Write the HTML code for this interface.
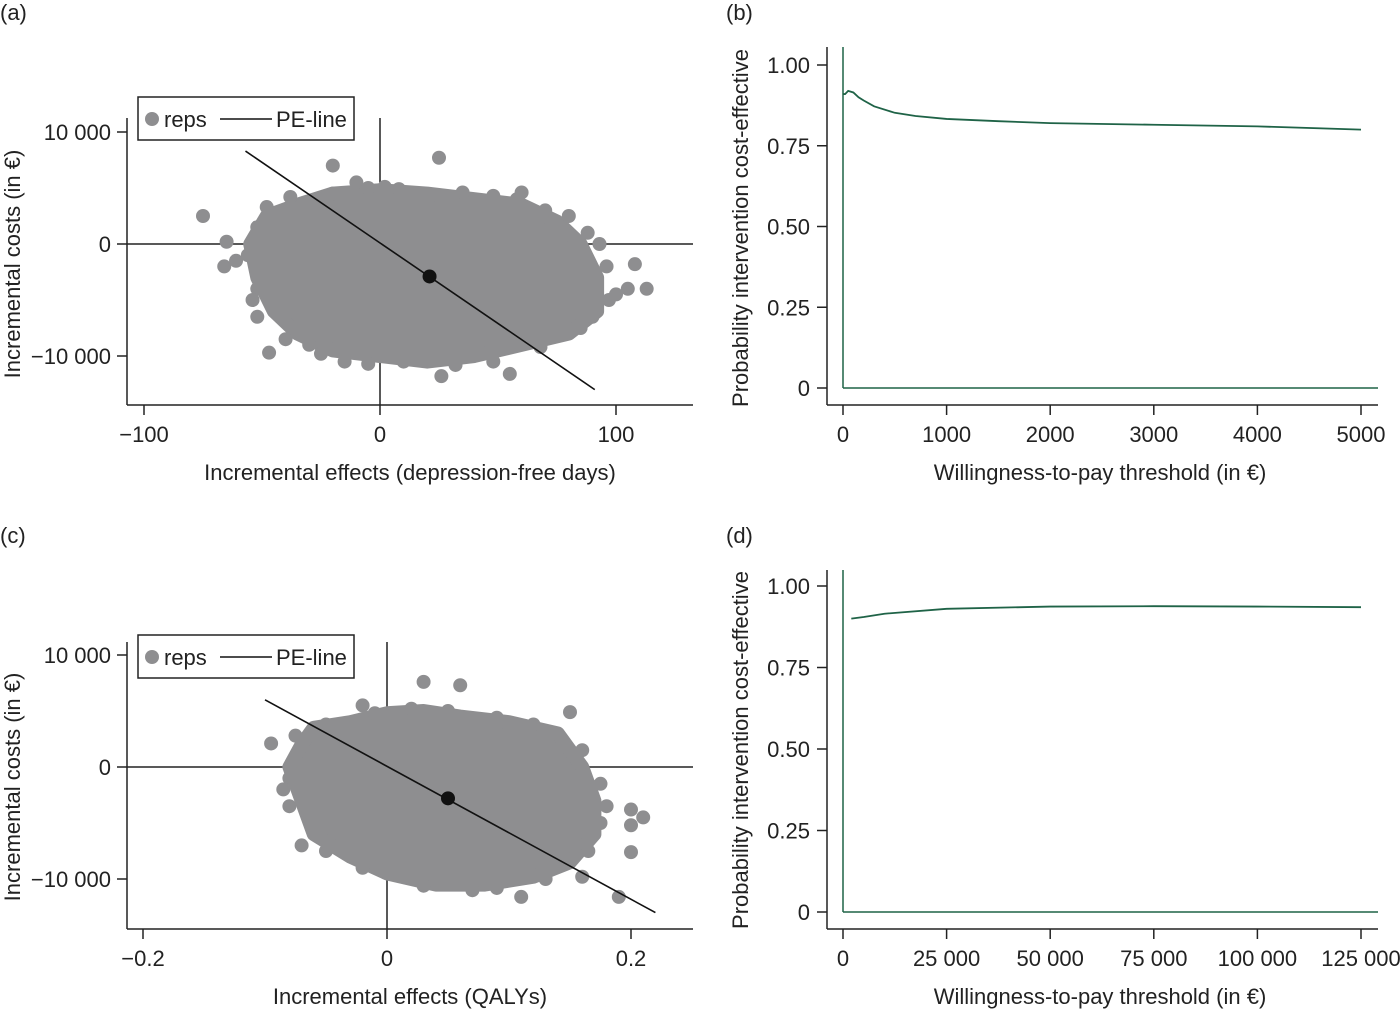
<!DOCTYPE html>
<html><head><meta charset="utf-8"><style>
body{margin:0;background:#fff;}
svg text{font-family:"Liberation Sans",sans-serif;fill:#222;}
</style></head><body>
<svg id="chart" width="1400" height="1010" xmlns="http://www.w3.org/2000/svg"></svg>
<script>
// Panel (a) data
const aTicksX=[-100,0,100];
const aTickLabelsX=["\u2212100","0","100"];
const aTicksY=[10000,0,-10000];
const aTickLabelsY=["10 000","0","\u221210 000"];
const aCloud=[[-55,0],[-48,2500],[-35,3500],[-20,4500],[0,4800],[20,4500],[40,4000],[60,3500],[75,2000],[85,0],[92,-3000],[92,-6000],[80,-8000],[60,-9000],[40,-10000],[20,-10500],[0,-10000],[-20,-9500],[-35,-8000],[-45,-6000],[-52,-3000]];
const aOutliers=[[-75,2500],[-65,200],[-66,-2000],[-61,-1500],[-52,-4000],[-52,-6500],[-47,-9700],[-20,7000],[-10,5500],[-20,4500],[25,7700],[60,4600],[80,2500],[93,0],[108,-1800],[105,-4000],[113,-4000],[100,-4500],[-30,-9000],[10,-10500],[26,-11800],[55,-11600],[-15,-10500],[90,-6500],[85,-7500],
[-48,3300],[-38,4200],[2,5100],[8,4900],[-5,5000],[35,4600],[48,4300],[58,4000],[70,3000],[88,1000],[96,-2000],[97,-5000],[-54,-5000],[-40,-8500],[-25,-9800],[-5,-10700],[32,-10800],[48,-10500],[68,-9200],[-56,-1000],[-52,1500]];
const aPE=[[-57,8300],[91,-13000]];
const aMean=[21,-2900];
// Panel (c) data
const cTicksX=[-0.2,0,0.2];
const cTickLabelsX=["\u22120.2","0","0.2"];
const cCloud=[[-0.07,2000],[-0.06,3500],[-0.03,4000],[0,4800],[0.03,5000],[0.06,4500],[0.1,4000],[0.14,3000],[0.16,0],[0.17,-3000],[0.17,-6000],[0.15,-8500],[0.12,-9800],[0.08,-10500],[0.04,-10500],[0,-9500],[-0.03,-8000],[-0.06,-6000],[-0.07,-3000],[-0.08,0]];
const cOutliers=[[-0.095,2100],[-0.08,-1000],[-0.08,-3500],[-0.07,-7000],[-0.02,5500],[0.03,7600],[0.06,7300],[0.15,4900],[0.18,-3500],[0.2,-3800],[0.2,-5200],[0.21,-4500],[0.2,-7600],[0.19,-11600],[0.16,-9800],[0.11,-11600],[0.07,-11000],
[-0.075,2800],[-0.05,3800],[-0.01,4800],[0.02,5200],[0.05,5000],[0.09,4400],[0.12,3800],[0.16,1500],[0.175,-1500],[0.175,-5000],[0.165,-7500],[0.13,-10000],[0.09,-10800],[0.03,-10600],[-0.02,-9000],[-0.05,-7500],[-0.085,-2000]];
const cPE=[[-0.1,6000],[0.22,-13000]];
const cMean=[0.05,-2800];
// Panel (b) data
const bX=[20,50,100,150,200,300,500,700,1000,1500,2000,3000,4000,5000];
const bY=[0.91,0.92,0.915,0.90,0.89,0.872,0.852,0.842,0.833,0.826,0.82,0.815,0.81,0.80];
const bTicks=[0,1000,2000,3000,4000,5000];
const bTickLabels=["0","1000","2000","3000","4000","5000"];
// Panel (d) data
const dX=[2000,5000,10000,25000,50000,75000,100000,125000];
const dY=[0.90,0.905,0.915,0.93,0.937,0.938,0.937,0.935];
const dTicks=[0,25000,50000,75000,100000,125000];
const dTickLabels=["0","25 000","50 000","75 000","100 000","125 000"];
const pTicks=[1,0.75,0.5,0.25,0];
const pTickLabels=["1.00","0.75","0.50","0.25","0"];

const svg=document.getElementById('chart');
const NS="http://www.w3.org/2000/svg";
function mk(tag,attrs,name,parent){const e=document.createElementNS(NS,tag);for(const k in attrs)e.setAttribute(k,attrs[k]);


(parent||svg).appendChild(e);return e;}
function txt(x,y,s,name,anchor,size,rot){const t=mk('text',{x:x,y:y,'text-anchor':anchor||'middle','font-size':size||22},name);if(rot)t.setAttribute('transform',`rotate(-90 ${x} ${y})`);t.textContent=s;return t;}
const GREY="#8e8e90", GREEN="#1f6347";

function scatterPanel(o){
  const sx=v=>o.x0+(v-o.xd0)*o.kx, sy=v=>o.y0-(v)*o.ky;
  const g=mk('g',{},o.name);
  mk('line',{x1:o.L,y1:o.T,x2:o.L,y2:o.B,stroke:'#222','stroke-width':1.5},'y-axis',g);
  mk('line',{x1:o.L,y1:o.B,x2:o.R,y2:o.B,stroke:'#222','stroke-width':1.5},'x-axis',g);
  o.tx.forEach((v,i)=>{mk('line',{x1:sx(v),y1:o.B,x2:sx(v),y2:o.B+10,stroke:'#222','stroke-width':1.5},'x-tick',g);txt(sx(v),o.B+37,o.txl[i],'x-tick-label');});
  aTicksY.forEach((v,i)=>{mk('line',{x1:o.L-10,y1:sy(v),x2:o.L,y2:sy(v),stroke:'#222','stroke-width':1.5},'y-tick',g);txt(o.L-16,sy(v)+8,aTickLabelsY[i],'y-tick-label','end');});
  mk('line',{x1:o.L,y1:sy(0),x2:o.R,y2:sy(0),stroke:'#222','stroke-width':1.5},'zero-cost-line',g);
  mk('line',{x1:sx(0),y1:o.T,x2:sx(0),y2:o.B,stroke:'#222','stroke-width':1.5},'zero-effect-line',g);
  mk('polygon',{points:o.cloud.map(p=>sx(p[0])+','+sy(p[1])).join(' '),fill:GREY,stroke:GREY,'stroke-width':14,'stroke-linejoin':'round'},'replicates-cloud',g);
  o.out.forEach(p=>mk('circle',{cx:sx(p[0]),cy:sy(p[1]),r:7,fill:GREY},'replicate-point',g));
  mk('line',{x1:sx(o.pe[0][0]),y1:sy(o.pe[0][1]),x2:sx(o.pe[1][0]),y2:sy(o.pe[1][1]),stroke:'#111','stroke-width':1.6},'pe-line',g);
  mk('circle',{cx:sx(o.mean[0]),cy:sy(o.mean[1]),r:7,fill:'#111'},'point-estimate',g);
  const lg=mk('g',{},'legend',g);
  mk('rect',{x:138,y:o.legY,width:216,height:43,fill:'#fff',stroke:'#222','stroke-width':1.5},'legend-box',lg);
  mk('circle',{cx:152,cy:o.legY+22,r:7,fill:GREY},'legend-reps-marker',lg);
  txt(164,o.legY+30,'reps','legend-reps-label','start');
  mk('line',{x1:220,y1:o.legY+22,x2:272,y2:o.legY+22,stroke:'#111','stroke-width':1.5},'legend-pe-line',lg);
  txt(276,o.legY+30,'PE-line','legend-pe-label','start');
  txt(410,o.B+75,o.xtitle,'x-axis-title');
  txt(20,o.sy0,'Incremental costs (in \u20ac)','y-axis-title','middle',22,true);
}
scatterPanel({name:'panel-a',L:127,R:693,T:118,B:405,x0:380,xd0:0,kx:2.36,y0:244,ky:0.0112,tx:aTicksX,txl:aTickLabelsX,cloud:aCloud,out:aOutliers,pe:aPE,mean:aMean,legY:97,xtitle:'Incremental effects (depression-free days)',sy0:264});
scatterPanel({name:'panel-c',L:127,R:693,T:642,B:929,x0:387,xd0:0,kx:1220,y0:767,ky:0.0112,tx:cTicksX,txl:cTickLabelsX,cloud:cCloud,out:cOutliers,pe:cPE,mean:cMean,legY:635,xtitle:'Incremental effects (QALYs)',sy0:787});

function ceacPanel(o){
  const sx=v=>843+v*o.kx, sy=v=>o.y0-v*o.ky;
  const g=mk('g',{},o.name);
  mk('line',{x1:827,y1:o.T,x2:827,y2:o.B,stroke:'#222','stroke-width':1.5},'y-axis',g);
  mk('line',{x1:827,y1:o.B,x2:1378,y2:o.B,stroke:'#222','stroke-width':1.5},'x-axis',g);
  o.ticks.forEach((v,i)=>{mk('line',{x1:sx(v),y1:o.B,x2:sx(v),y2:o.B+10,stroke:'#222','stroke-width':1.5},'x-tick',g);txt(sx(v),o.B+37,o.labels[i],'x-tick-label');});
  pTicks.forEach((v,i)=>{mk('line',{x1:817,y1:sy(v),x2:827,y2:sy(v),stroke:'#222','stroke-width':1.5},'y-tick',g);txt(810,sy(v)+8,pTickLabels[i],'y-tick-label','end');});
  mk('line',{x1:843,y1:sy(0),x2:1378,y2:sy(0),stroke:GREEN,'stroke-width':1.5},'zero-probability-line',g);
  mk('line',{x1:843,y1:o.T,x2:843,y2:sy(0),stroke:GREEN,'stroke-width':1.5},'zero-threshold-line',g);
  let d='M'+o.xs.map((x,i)=>sx(x)+','+sy(o.ys[i])).join(' L');
  if(o.joinStart) d='M843,'+sy(o.ys[0])+' L'+d.slice(1);
  mk('path',{d:d,fill:'none',stroke:GREEN,'stroke-width':1.8},'ceac-curve',g);
  txt(1100,o.B+75,'Willingness-to-pay threshold (in \u20ac)','x-axis-title');
  txt(748,o.midY,'Probability intervention cost-effective','y-axis-title','middle',22,true);
}
ceacPanel({name:'panel-b',T:47,B:405,y0:388,ky:323,kx:0.1036,ticks:bTicks,labels:bTickLabels,xs:bX,ys:bY,joinStart:true,midY:228});
ceacPanel({name:'panel-d',T:570,B:929,y0:912,ky:326,kx:0.004144,ticks:dTicks,labels:dTickLabels,xs:dX,ys:dY,joinStart:false,midY:750});

txt(0,20,'(a)','panel-a-label','start');
txt(726,20,'(b)','panel-b-label','start');
txt(0,543,'(c)','panel-c-label','start');
txt(726,543,'(d)','panel-d-label','start');
</script>
</body></html>
